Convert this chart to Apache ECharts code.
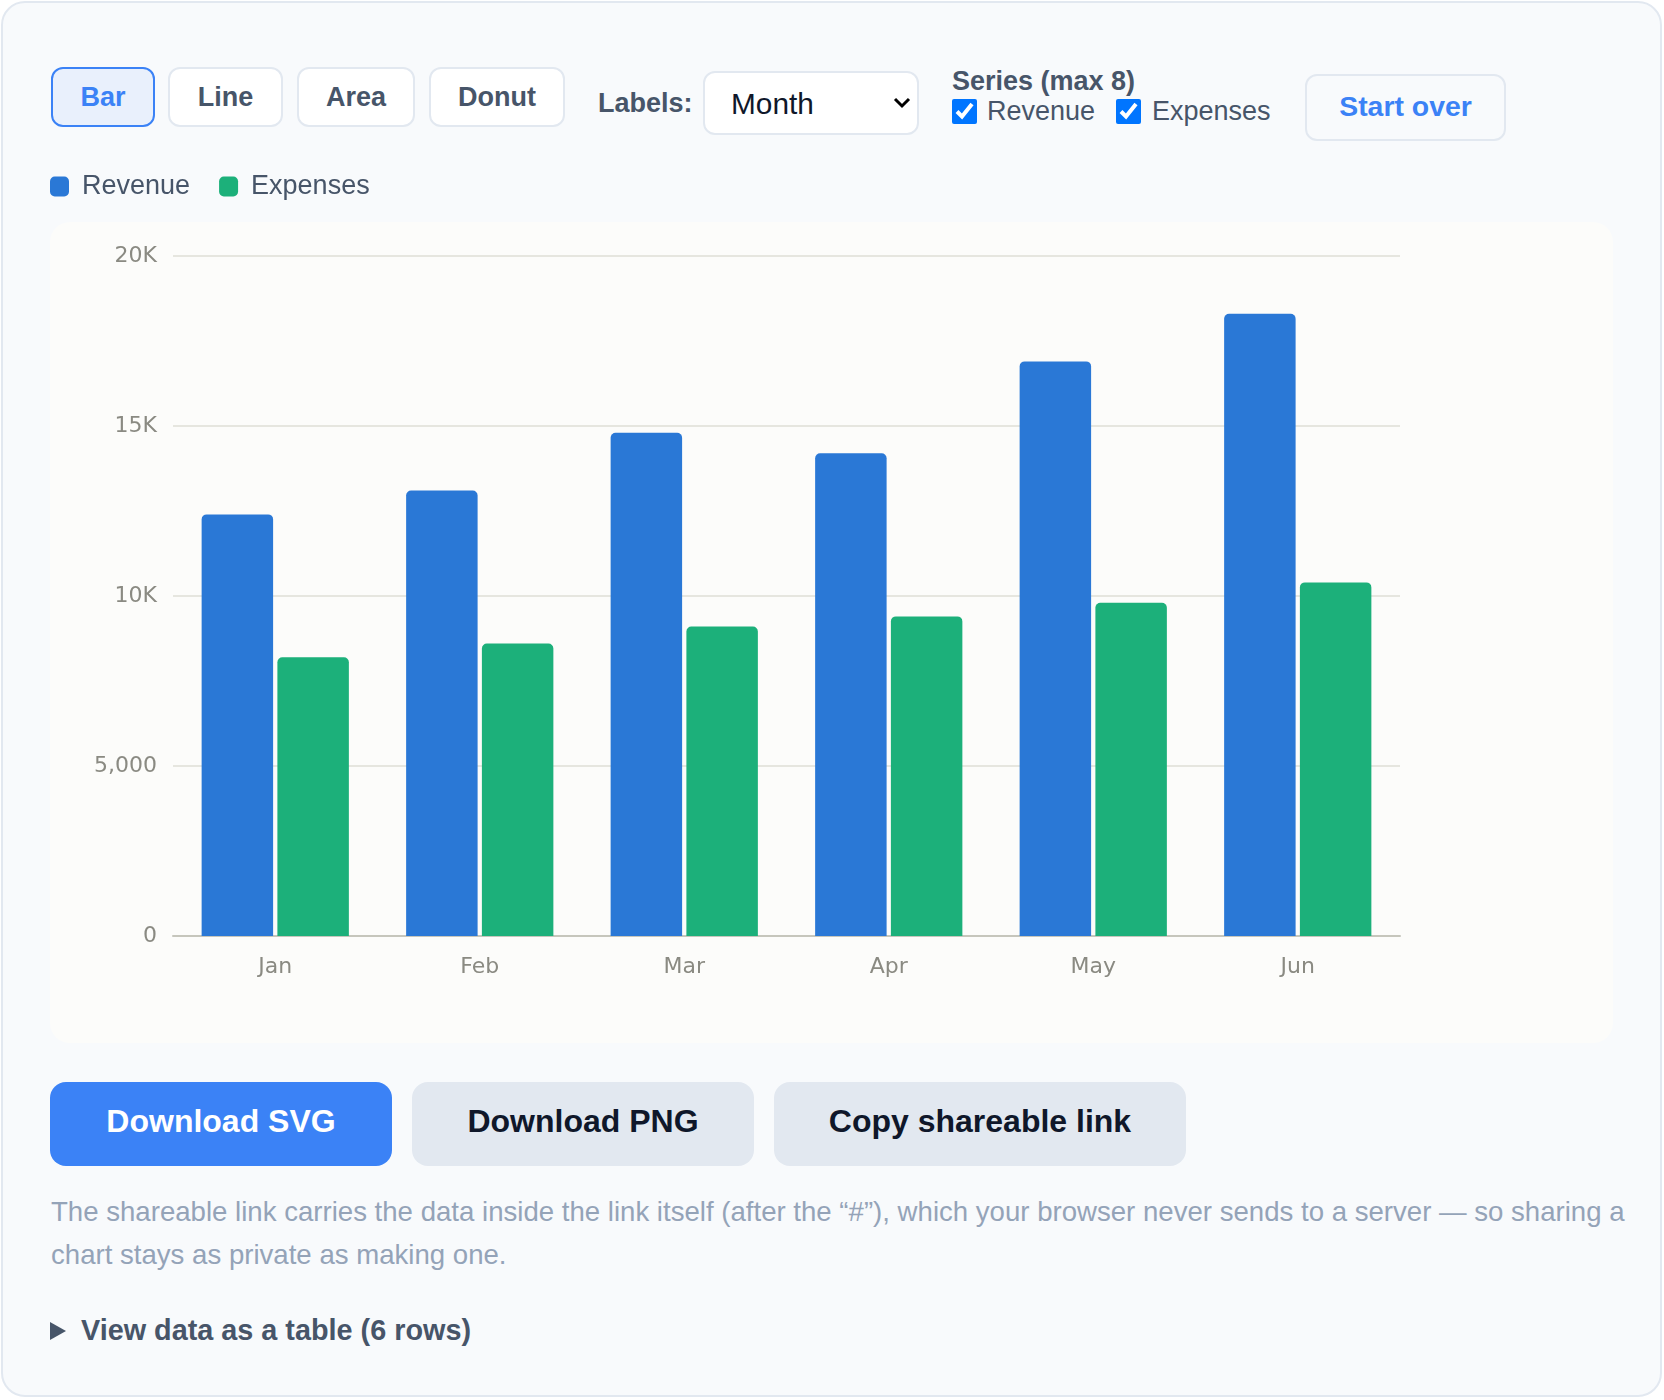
<!DOCTYPE html>
<html lang="en">
<head>
<meta charset="UTF-8">
<meta name="viewport" content="width=device-width, initial-scale=1.0">
<title>Revenue vs Expenses</title>
<script src="https://cdn.jsdelivr.net/npm/echarts@6/dist/echarts.min.js"></script>
<style>
    html,body{margin:0;padding:0;background:#fff;}
    body{width:1664px;height:1400px;position:relative;overflow:hidden;font-family:"Liberation Sans",Arial,sans-serif;}
    .card{position:absolute;left:1px;top:1px;width:1661px;height:1396px;box-sizing:border-box;border:2px solid #e2e8f0;border-radius:24px;background:#f8fafc;}
    .tab{position:absolute;top:67px;height:60px;box-sizing:border-box;border:2px solid #e2e8f0;border-radius:12px;background:#fff;color:#475569;font-weight:bold;font-size:27px;display:flex;align-items:center;justify-content:center;}
    .tab.on{border-color:#3b82f6;background:#e9f0fc;color:#3b82f6;}
    .lbl{position:absolute;font-size:27px;line-height:27px;color:#475569;white-space:nowrap;}
    .b{font-weight:bold;}
    select{position:absolute;left:703px;top:71px;width:216px;height:64px;box-sizing:border-box;border:2px solid #e2e8f0;border-radius:12px;background:#fff;
        font-family:"Liberation Sans",Arial,sans-serif;font-size:29.8px;color:#0f172a;padding:0 0 0 26px;margin:0;
        -webkit-appearance:none;appearance:none;
        background-image:url("data:image/svg+xml;utf8,<svg xmlns='http://www.w3.org/2000/svg' width='18' height='12'><path d='M2 2 L9 9 L16 2' fill='none' stroke='black' stroke-width='3'/></svg>");
        background-repeat:no-repeat;background-position:right 6px center;}
    input[type=checkbox]{position:absolute;width:25px;height:25px;margin:0;accent-color:#0075ff;}
    .btn{position:absolute;top:1082px;height:84px;box-sizing:border-box;padding-bottom:6px;border-radius:16px;font-weight:bold;font-size:32px;display:flex;align-items:center;justify-content:center;}
    #panel{position:absolute;left:50px;top:222px;width:1563px;height:821px;border-radius:20px;background:#fcfcfa;}
    #chart{position:absolute;left:50px;top:160px;width:1564px;height:884px;}
    .note{position:absolute;left:51px;top:1191px;width:1592px;font-size:27.6px;line-height:42.5px;color:#94a3b8;}
    .tri{position:absolute;left:50px;top:1322px;width:0;height:0;border-top:9px solid transparent;border-bottom:9px solid transparent;border-left:16px solid #475569;}
</style>
</head>
<body>
    <div class="card"></div>

    <div class="tab on" style="left:51px;width:104px;">Bar</div>
    <div class="tab" style="left:168px;width:115px;">Line</div>
    <div class="tab" style="left:297px;width:118px;">Area</div>
    <div class="tab" style="left:429px;width:136px;">Donut</div>

    <div class="lbl b" style="left:598px;top:90px;">Labels:</div>
    <select><option>Month</option></select>

    <div class="lbl b" style="left:952px;top:68px;">Series (max 8)</div>
    <input type="checkbox" checked style="left:952px;top:99px;">
    <div class="lbl" style="left:987px;top:98px;">Revenue</div>
    <input type="checkbox" checked style="left:1116px;top:99px;">
    <div class="lbl" style="left:1152px;top:98px;">Expenses</div>

    <div class="tab" style="left:1305px;top:74px;width:201px;height:67px;padding-bottom:2px;background:transparent;color:#3b82f6;font-size:28.4px;">Start over</div>

    <div id="panel"></div>
    <div id="chart"></div>

    <div class="btn" style="left:50px;width:342px;background:#3b82f6;color:#fff;">Download SVG</div>
    <div class="btn" style="left:412px;width:342px;background:#e2e8f0;color:#0f172a;">Download PNG</div>
    <div class="btn" style="left:774px;width:412px;background:#e2e8f0;color:#0f172a;">Copy shareable link</div>

    <div class="note">The shareable link carries the data inside the link itself (after the “#”), which your browser never sends to a server — so sharing a chart stays as private as making one.</div>

    <div class="tri"></div>
    <div class="lbl b" style="left:81px;top:1316px;font-size:28.8px;line-height:28.8px;">View data as a table (6 rows)</div>

    <script>
        // data
        const months=['Jan','Feb','Mar','Apr','May','Jun'];
        const revenue=[12400,13100,14800,14200,16900,18300];
        const expenses=[8200,8600,9100,9400,9800,10400];
        const yTicks=[0,5000,10000,15000,20000];
        const yTickLabels=['0','5,000','10K','15K','20K'];

        const axisFont={fontFamily:'DejaVu Sans',fontSize:22,color:'#8a8a82'};

        let chart=echarts.init(document.getElementById('chart'),null,{renderer:'canvas'});
        chart.setOption({
            animation:false,
            backgroundColor:'transparent',
            legend:{
                left:0,
                top:13,
                padding:0,
                itemWidth:19,
                itemHeight:20,
                itemGap:29,
                icon:'roundRect',
                textStyle:{fontFamily:'Liberation Sans',fontSize:27,lineHeight:27,color:'#475569',padding:[0,0,0,8]},
                data:['Revenue','Expenses'],
            },
            grid:{left:123,right:214,top:96,bottom:108,containLabel:false},
            xAxis:{
                type:'category',
                data:months,
                axisTick:{show:false},
                axisLine:{lineStyle:{color:'#c6c6bc',width:2}},
                axisLabel:Object.assign({margin:20},axisFont),
            },
            yAxis:{
                type:'value',
                min:0,
                max:20000,
                interval:5000,
                axisLine:{show:false},
                axisTick:{show:false},
                splitLine:{lineStyle:{color:'#e6e6df',width:2}},
                axisLabel:Object.assign({margin:16,verticalAlign:'middle',lineHeight:22,padding:[5,0,0,0],formatter:(v)=>{
                    let i=yTicks.indexOf(v);
                    return i>=0 ? yTickLabels[i] : '';
                }},axisFont),
            },
            series:[
                {
                    name:'Revenue',
                    type:'bar',
                    data:revenue,
                    barCategoryGap:'28%',
                    barGap:'6%',
                    itemStyle:{color:'#2a78d6',borderRadius:[5,5,0,0]},
                },
                {
                    name:'Expenses',
                    type:'bar',
                    data:expenses,
                    itemStyle:{color:'#1cb07a',borderRadius:[5,5,0,0]},
                },
            ],
        });
    </script>
</body>
</html>
